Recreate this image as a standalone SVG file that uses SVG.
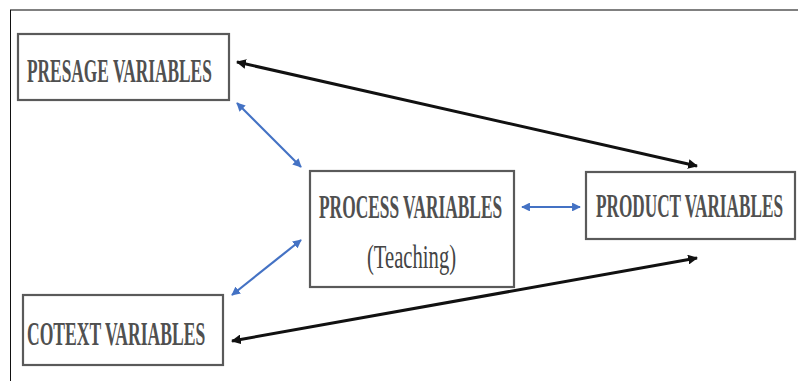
<svg xmlns="http://www.w3.org/2000/svg" width="798" height="381" viewBox="0 0 798 381">
  <style>
    .box { fill: #ffffff; stroke: #5a5a5a; stroke-width: 2.2; }
    .lbl { font-family: "Liberation Serif", "DejaVu Serif", serif; font-size: 34px; font-weight: bold; fill: #505050; }
    .thin { font-weight: normal; fill: #444444; }
    .blk { stroke: #111111; stroke-width: 3; fill: none; marker-start: url(#hb); marker-end: url(#hb); }
    .blu { stroke: #4472c4; stroke-width: 2.2; fill: none; marker-start: url(#hu); marker-end: url(#hu); }
  </style>
  <defs>
    <marker id="hb" viewBox="0 0 10 10" refX="9" refY="5" markerWidth="3.3" markerHeight="3.3" orient="auto-start-reverse" markerUnits="strokeWidth">
      <path d="M0,0 L10,5 L0,10 z" fill="#111111"/>
    </marker>
    <marker id="hu" viewBox="0 0 10 10" refX="9" refY="5" markerWidth="4" markerHeight="4" orient="auto-start-reverse" markerUnits="strokeWidth">
      <path d="M0,0 L10,5 L0,10 z" fill="#4472c4"/>
    </marker>
  </defs>

  <rect x="0" y="0" width="798" height="381" fill="#ffffff"/>
  <!-- outer frame -->
  <line x1="10" y1="10" x2="798" y2="10" stroke="#808080" stroke-width="2"/>
  <line x1="10.5" y1="10" x2="10.5" y2="381" stroke="#111111" stroke-width="1"/>

  <g id="connectors">
    <line class="blk" x1="237" y1="62" x2="697" y2="166"/>
    <line class="blk" x1="232" y1="341" x2="697" y2="258"/>
    <line class="blu" x1="237" y1="103" x2="301" y2="167"/>
    <line class="blu" x1="301" y1="240" x2="232" y2="295"/>
    <line class="blu" x1="522" y1="207" x2="580" y2="207"/>
  </g>

  <!-- labels are set in a horizontally condensed serif (scaleX 0.55) -->
  <g id="presage">
    <rect class="box" x="18" y="34" width="211" height="66"/>
    <text class="lbl" transform="translate(27 82) scale(0.55 1)" textLength="336" lengthAdjust="spacingAndGlyphs">PRESAGE VARIABLES</text>
  </g>

  <g id="process">
    <rect class="box" x="310" y="171" width="204" height="116"/>
    <text class="lbl" transform="translate(319 218) scale(0.55 1)" textLength="333" lengthAdjust="spacingAndGlyphs">PROCESS VARIABLES</text>
    <text class="lbl thin" transform="translate(367 268) scale(0.55 1)" textLength="162" lengthAdjust="spacingAndGlyphs">(Teaching)</text>
  </g>

  <g id="product">
    <rect class="box" x="586" y="172" width="209" height="67"/>
    <text class="lbl" transform="translate(596 217) scale(0.55 1)" textLength="340" lengthAdjust="spacingAndGlyphs">PRODUCT VARIABLES</text>
  </g>

  <g id="cotext">
    <rect class="box" x="23" y="295" width="200" height="70"/>
    <text class="lbl" transform="translate(27 345) scale(0.55 1)" textLength="324" lengthAdjust="spacingAndGlyphs">COTEXT VARIABLES</text>
  </g>
</svg>
